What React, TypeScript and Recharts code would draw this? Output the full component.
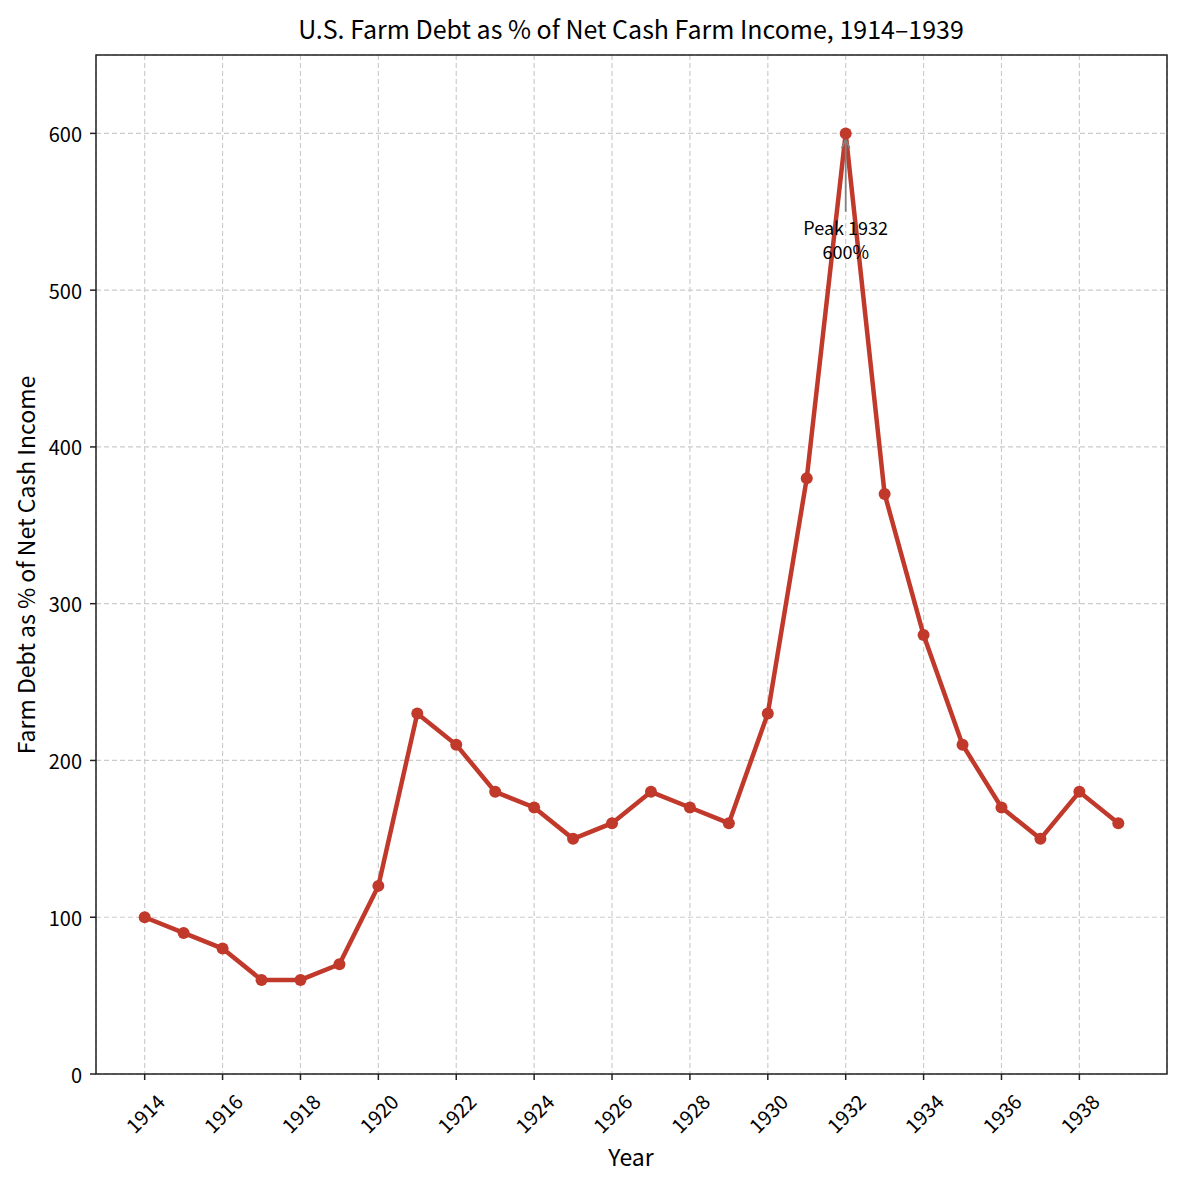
import React from "react"
import {
  LineChart,
  Line,
  XAxis,
  YAxis,
  CartesianGrid,
  ReferenceLine,
  ReferenceDot,
  ReferenceArea,
} from "recharts"

const years = [
  1914, 1915, 1916, 1917, 1918, 1919, 1920, 1921, 1922, 1923, 1924, 1925, 1926,
  1927, 1928, 1929, 1930, 1931, 1932, 1933, 1934, 1935, 1936, 1937, 1938, 1939,
]
const debtPct = [
  100, 90, 80, 60, 60, 70, 120, 230, 210, 180, 170, 150, 160,
  180, 170, 160, 230, 380, 600, 370, 280, 210, 170, 150, 180, 160,
]
const xTicks = [1914, 1916, 1918, 1920, 1922, 1924, 1926, 1928, 1930, 1932, 1934, 1936, 1938]
const yTicks = [0, 100, 200, 300, 400, 500, 600]
const xDomain = [1912.75, 1940.25]
const yDomain = [0, 650]
const peakYear = 1932
const peakValue = 600
const peakTextAt = 550

const FONT = "'Noto Sans CJK JP', 'Noto Sans', sans-serif"
const RED = "#c0392b"
const AXIS = "#222"

const data = years.map((y, i) => ({ year: y, value: debtPct[i] }))

function XTick(props: any) {
  const { x, y, payload } = props
  const cy = y + 31
  return (
    <text
      x={x}
      y={cy}
      textAnchor="middle"
      dominantBaseline="central"
      fontSize={20}
      fontFamily={FONT}
      fill="#000"
      transform={`rotate(-45, ${x}, ${cy})`}
    >
      {payload.value}
    </text>
  )
}

function YTick(props: any) {
  const { x, y, payload } = props
  return (
    <text x={x - 6} y={y} textAnchor="end" dominantBaseline="central" fontSize={20} fontFamily={FONT} fill="#000">
      {payload.value}
    </text>
  )
}

function ArrowShape(props: any) {
  const { x1, y1, x2, y2 } = props
  // arrow from the label up to the peak point
  const tipY = y2 + 6
  return (
    <g>
      <line x1={x1} y1={y1} x2={x2} y2={tipY} stroke="#808080" strokeWidth={1.8} />
      <path d={`M${x2 - 4},${tipY + 9} L${x2},${tipY} L${x2 + 4},${tipY + 9}`} fill="none" stroke="#808080" strokeWidth={1.8} />
    </g>
  )
}

function PeakLabel(props: any) {
  const { viewBox } = props
  const cx = viewBox.x + (viewBox.width || 0) / 2
  const cy = viewBox.y + (viewBox.height || 0) / 2
  return (
    <g fontFamily={FONT} fontSize={18} fill="#000" textAnchor="middle">
      <text x={cx} y={cy + 15} dominantBaseline="central">Peak 1932</text>
      <text x={cx} y={cy + 39} dominantBaseline="central">600%</text>
    </g>
  )
}

export default function App() {
  return (
    <div style={{ position: "absolute", left: 0, top: 0, width: 1182, height: 1183, background: "#fff" }}>
      <svg width={1182} height={1183} style={{ position: "absolute", left: 0, top: 0 }}>
        <text x={631} y={28} textAnchor="middle" dominantBaseline="central" fontSize={25} fontFamily={FONT} fill="#000">
          U.S. Farm Debt as % of Net Cash Farm Income, 1914–1939
        </text>
        <text x={631} y={1156} textAnchor="middle" dominantBaseline="central" fontSize={23} fontFamily={FONT} fill="#000">
          Year
        </text>
        <text
          x={25}
          y={565}
          textAnchor="middle"
          dominantBaseline="central"
          fontSize={23}
          fontFamily={FONT}
          fill="#000"
          transform="rotate(-90, 25, 565)"
        >
          Farm Debt as % of Net Cash Income
        </text>
      </svg>
      <div style={{ position: "absolute", left: 0, top: 0 }}>
        <LineChart width={1182} height={1183} data={data} margin={{ top: 55, right: 15, bottom: 59, left: 36 }}>
          <CartesianGrid stroke="#cccccc" strokeDasharray="5 3" strokeWidth={1.2} />
          <XAxis
            dataKey="year"
            type="number"
            domain={xDomain}
            ticks={xTicks}
            allowDataOverflow
            height={50}
            tick={<XTick />}
            tickSize={6}
            tickLine={{ stroke: AXIS, strokeWidth: 1.5 }}
            axisLine={false}
          />
          <YAxis
            type="number"
            domain={yDomain}
            ticks={yTicks}
            allowDataOverflow
            width={60}
            tick={<YTick />}
            tickSize={6}
            tickLine={{ stroke: AXIS, strokeWidth: 1.5 }}
            axisLine={false}
          />
          <ReferenceArea
            x1={xDomain[0]}
            x2={xDomain[1]}
            y1={yDomain[0]}
            y2={yDomain[1]}
            fill="none"
            fillOpacity={0}
            stroke={AXIS}
            strokeWidth={1.5}
            ifOverflow="visible"
          />
          <Line
            type="linear"
            dataKey="value"
            stroke={RED}
            strokeWidth={4.5}
            dot={{ r: 6, fill: RED, stroke: RED, strokeWidth: 0 }}
            isAnimationActive={false}
          />
          <ReferenceLine
            segment={[
              { x: peakYear, y: peakTextAt },
              { x: peakYear, y: peakValue },
            ]}
            shape={<ArrowShape />}
          />
          <ReferenceDot x={peakYear} y={peakTextAt} r={0} stroke="none" fill="none" label={<PeakLabel />} />
        </LineChart>
      </div>
    </div>
  )
}
